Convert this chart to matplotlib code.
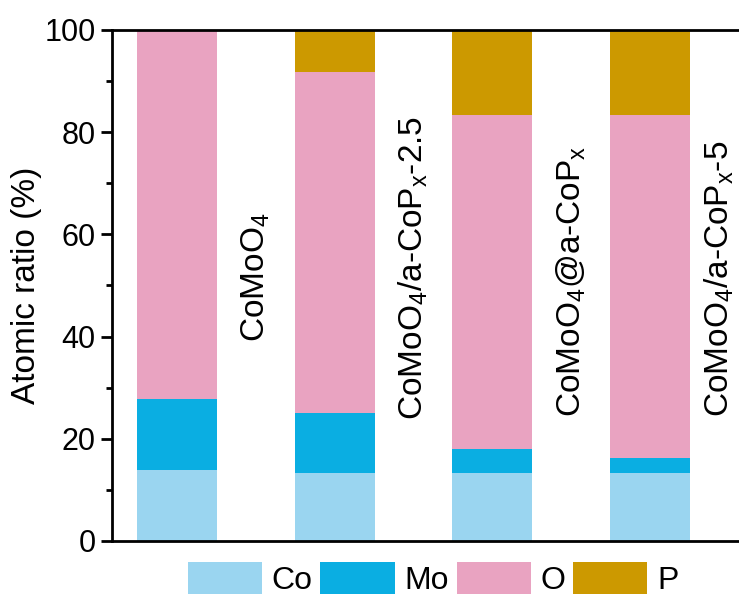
import matplotlib
matplotlib.use('Agg')
import matplotlib.pyplot as plt
import numpy as np

matplotlib.rcParams.update({
    'font.family': ['Liberation Sans', 'DejaVu Sans'],
    'font.size': 22,
    'mathtext.fontset': 'custom',
    'mathtext.rm': 'Liberation Sans',
    'mathtext.it': 'Liberation Sans:italic',
})

# atomic ratios (%) per sample, stacked bottom to top
samples = [r'CoMoO$_4$', r'CoMoO$_4$/a-CoP$_\mathrm{x}$-2.5',
           r'CoMoO$_4$@a-CoP$_\mathrm{x}$', r'CoMoO$_4$/a-CoP$_\mathrm{x}$-5']
co = [13.8, 13.3, 13.3, 13.3]
mo = [13.9, 11.7, 4.7, 3.0]
o = [72.3, 66.7, 65.3, 67.0]
p = [0.0, 8.3, 16.7, 16.7]
label_x = [0.5, 1.5, 2.5, 3.44]
label_y = [39, 23.7, 24.3, 24.3]

elements = ['Co', 'Mo', 'O', 'P']
colors = ['#9ad5f0', '#0aaee2', '#e9a3c1', '#cc9900']

fig = plt.figure(figsize=(7.39, 5.99), dpi=100)
ax = fig.add_axes([0.152, 0.097, 0.86, 0.853])

x = np.arange(len(samples))
width = 0.506
bottom = np.zeros(len(samples))
for name, vals, c in zip(elements, [co, mo, o, p], colors):
    ax.bar(x, vals, width, bottom=bottom, color=c, label=name, linewidth=0)
    bottom += np.array(vals)

# sample names sit vertically in the gaps right of each bar
for lx, ly, name in zip(label_x, label_y, samples):
    ax.text(lx, ly, name, rotation=90, ha='center', va='bottom', fontsize=24)

ax.set_xlim(-0.41, 3.62)
ax.set_ylim(0, 100)
ax.set_yticks(range(0, 101, 20))
ax.set_yticks(range(10, 100, 20), minor=True)
ax.set_xticks([])
ax.set_ylabel('Atomic ratio (%)', fontsize=24, labelpad=2)

for s in ['left', 'bottom', 'top', 'right']:
    ax.spines[s].set_linewidth(2.0)
ax.tick_params(axis='y', which='major', length=8, width=2.0, direction='out', pad=4)
ax.tick_params(axis='y', which='minor', length=4.5, width=2.0, direction='out')

fig.legend(loc='center', bbox_to_anchor=(0.586, 0.034), ncol=4, frameon=False,
           handlelength=2.32, handleheight=1.16, handletextpad=0.3,
           columnspacing=0.25, fontsize=23, borderaxespad=0)

fig.savefig('out.png', dpi=100)
